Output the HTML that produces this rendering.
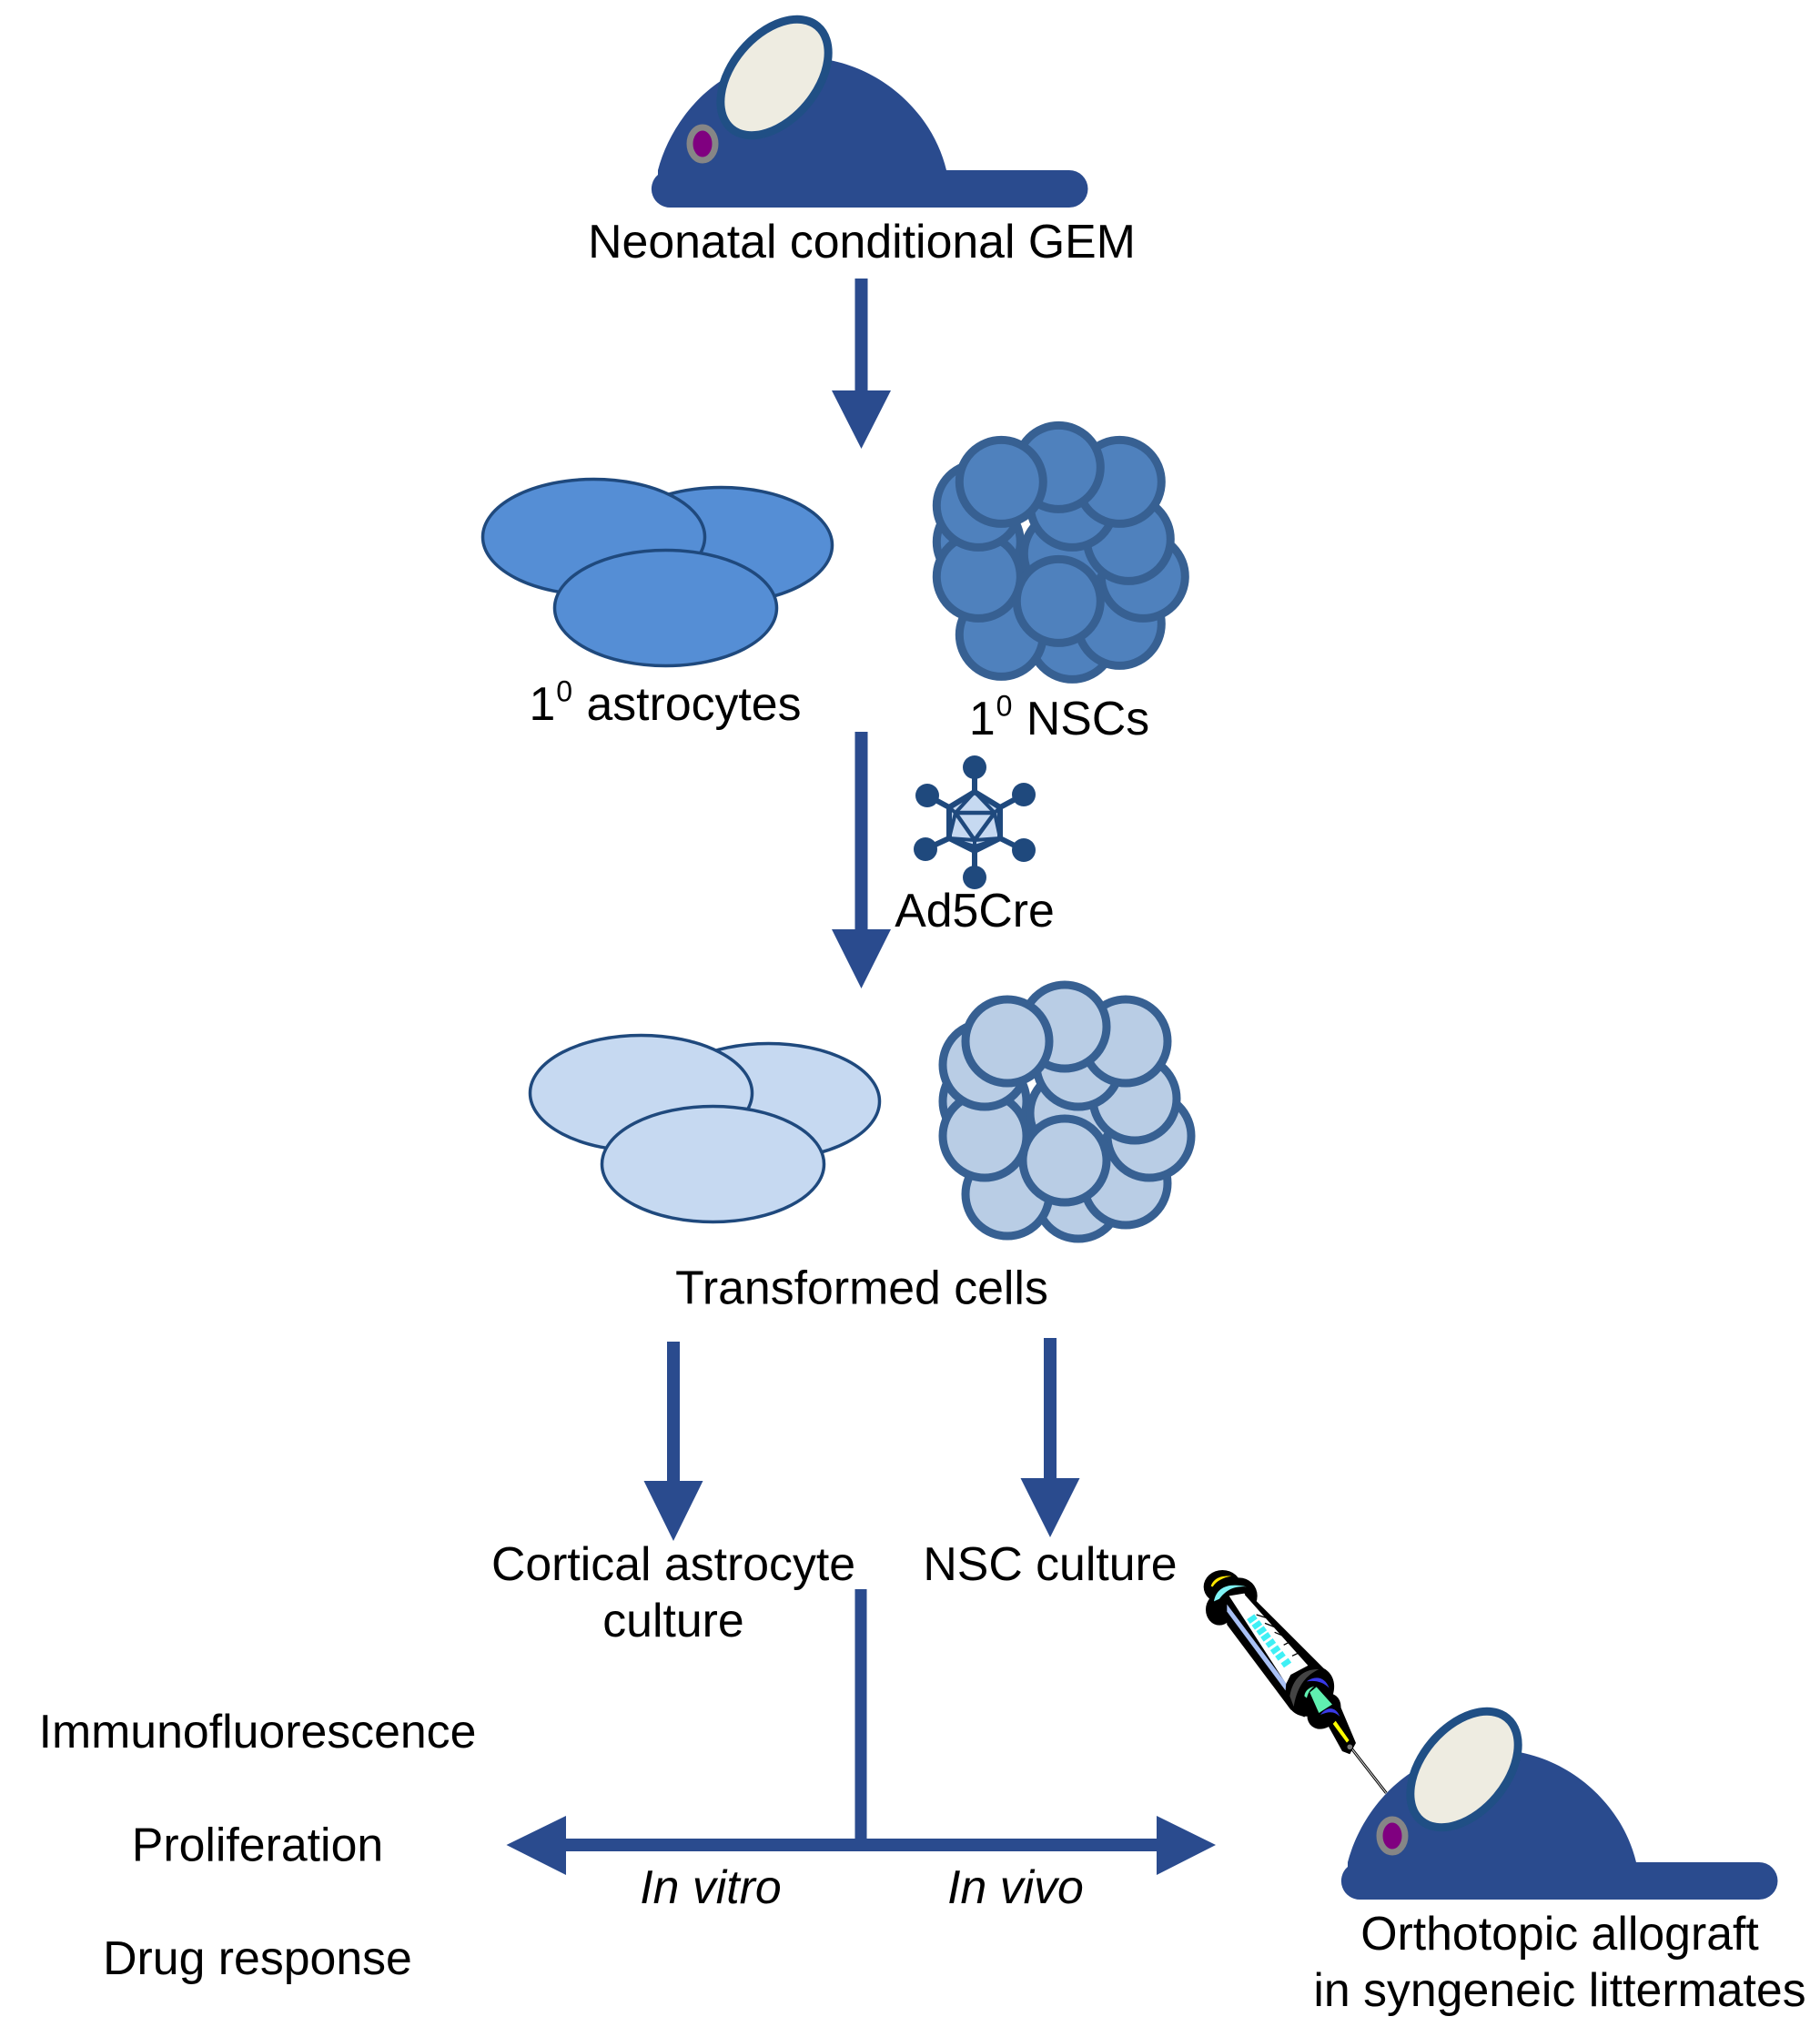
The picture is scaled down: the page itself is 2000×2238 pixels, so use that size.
<!DOCTYPE html>
<html><head><meta charset="utf-8"><style>
html,body{margin:0;padding:0;background:#fff}
svg{display:block}
text{font-family:"Liberation Sans",Arial,sans-serif;font-size:51.8px;fill:#000;text-anchor:middle}
</style></head><body>
<svg width="2000" height="2238" viewBox="0 0 2000 2238" xmlns="http://www.w3.org/2000/svg">
<defs>
<g id="mouse">
<path d="M723 187C738 130 790 63 880 63C960 63 1024 120 1040 187L1175 187A20.5 20.5 0 0 1 1175 228L737 228A20.5 20.5 0 0 1 723 192Z" fill="#2a4b8e"/>
<ellipse cx="851" cy="85" rx="73.5" ry="46.5" transform="rotate(-50 851 85)" fill="#eeece1" stroke="#204f85" stroke-width="9"/>
<ellipse cx="772" cy="158" rx="14" ry="18" fill="#800080" stroke="#868686" stroke-width="7"/>
</g>
<g id="nsc" stroke="#376092" stroke-width="9">
<circle cx="1185" cy="1315" r="46"/>
<circle cx="1107" cy="1312" r="46"/>
<circle cx="1237" cy="1300" r="46"/>
<circle cx="1263" cy="1248" r="46"/>
<circle cx="1082" cy="1210" r="46"/>
<circle cx="1082" cy="1248" r="46"/>
<circle cx="1178" cy="1223" r="46"/>
<circle cx="1247" cy="1207" r="46"/>
<circle cx="1185" cy="1170" r="46"/>
<circle cx="1237" cy="1144" r="46"/>
<circle cx="1170" cy="1128" r="46"/>
<circle cx="1082" cy="1170" r="46"/>
<circle cx="1107" cy="1144" r="46"/>
<circle cx="1170" cy="1275" r="46"/>
</g>
</defs>

<use href="#mouse"/>
<use href="#mouse" transform="translate(758 1859)"/>

<!-- arrows -->
<g fill="#2a4b8e">
<rect x="939.5" y="306" width="14" height="125"/>
<polygon points="914,429 979,429 946.5,493"/>
<rect x="939.5" y="804" width="14" height="220"/>
<polygon points="914,1021 979,1021 946.5,1086"/>
<rect x="733" y="1474" width="14" height="156"/>
<polygon points="707.5,1627 772.5,1627 740,1693"/>
<rect x="1147" y="1470" width="14" height="157"/>
<polygon points="1121.5,1624 1186.5,1624 1154,1689"/>
<rect x="939.5" y="1746" width="13" height="285"/>
<rect x="620" y="2020" width="652" height="14"/>
<polygon points="556.5,2027 622,1995 622,2060"/>
<polygon points="1336,2027 1271,1995 1271,2060"/>
</g>

<g fill="#558ed5" stroke="#1f497d" stroke-width="3.5">
<ellipse cx="792.5" cy="599" rx="122" ry="63.5"/>
<ellipse cx="652.5" cy="590" rx="122" ry="63.5"/>
<ellipse cx="731.5" cy="668" rx="122" ry="63.5"/>
</g>
<g fill="#c6d9f1" stroke="#1f497d" stroke-width="3.5" transform="translate(52 611)">
<ellipse cx="792.5" cy="599" rx="122" ry="63.5"/>
<ellipse cx="652.5" cy="590" rx="122" ry="63.5"/>
<ellipse cx="731.5" cy="668" rx="122" ry="63.5"/>
</g>
<use href="#nsc" transform="translate(-6.7 -614.6)" fill="#4f81bd"/>
<use href="#nsc" fill="#b9cde5"/>

<!-- virus -->
<g stroke="#1f497d" stroke-width="6" fill="none" stroke-linejoin="round">
<line x1="1071" y1="843" x2="1071" y2="870"/><line x1="1019" y1="874" x2="1043" y2="887"/><line x1="1125" y1="873" x2="1099" y2="887"/><line x1="1017" y1="933" x2="1043" y2="921"/><line x1="1125" y1="934" x2="1099" y2="921"/><line x1="1071" y1="964" x2="1071" y2="935"/>
<polygon points="1071,870 1099,887 1099,921 1071,935 1043,921 1043,887" fill="#c6d9f1"/>
<polygon points="1050,893 1093,893 1071,923" stroke-width="4.5"/>
<path d="M1071 870L1050 893L1043 887M1071 870L1093 893L1099 887M1050 893L1043 921L1071 923L1099 921L1093 893M1071 923L1071 935M1043 921L1071 930L1099 921" stroke-width="4"/>
<g fill="#1f497d" stroke="none">
<circle cx="1071" cy="843" r="13"/><circle cx="1019" cy="874" r="13"/><circle cx="1125" cy="873" r="13"/><circle cx="1017" cy="933" r="13"/><circle cx="1125" cy="934" r="13"/><circle cx="1071" cy="964" r="13"/>
</g>
</g>

<!-- syringe -->
<g transform="translate(1290 1700) scale(.3333)">
<line x1="585" y1="662" x2="700" y2="810" stroke="#000" stroke-width="9"/>
<line x1="585" y1="662" x2="700" y2="810" stroke="#ddd" stroke-width="3"/>
<polygon points="490,555 545,515 600,645 580,682 555,672" fill="#000"/>
<circle cx="580" cy="658" r="10" fill="#777" stroke="#000" stroke-width="3"/>
<polygon points="508,560 520,553 578,636 570,644" fill="#ff0"/>
<ellipse cx="160" cy="130" rx="62" ry="55" fill="#000"/>
<ellipse cx="150" cy="205" rx="45" ry="52" fill="#000"/>
<ellipse cx="215" cy="160" rx="60" ry="60" fill="#000"/>
<polygon points="170,170 270,175 515,420 430,560 385,535 175,255" fill="#000"/>
<ellipse cx="450" cy="475" rx="72" ry="88" transform="rotate(38 450 475)" fill="#000"/>
<path d="M382 490C392 430 430 400 478 402C440 420 408 450 395 525Z" fill="#444"/>
<ellipse cx="495" cy="540" rx="50" ry="64" transform="rotate(38 495 540)" fill="#000"/>
<polygon points="182,160 232,152 445,388 385,420 370,450" fill="#fff"/>
<polygon points="175,188 370,448 368,472 175,212" fill="#a8c0f5"/>
<g stroke="#000" stroke-width="4" fill="none">
<line x1="235" y1="155" x2="445" y2="390"/>
<line x1="272" y1="222" x2="304" y2="232"/><line x1="300" y1="250" x2="330" y2="262"/><line x1="332" y1="280" x2="360" y2="292"/><line x1="362" y1="322" x2="394" y2="306"/><line x1="390" y1="358" x2="424" y2="342"/>
</g>
<g fill="#3ff0f5">
<rect x="-15" y="-9" width="30" height="18" transform="translate(258 236) rotate(-35)"/>
<rect x="-15" y="-9" width="30" height="18" transform="translate(274 256) rotate(-35)"/>
<rect x="-15" y="-9" width="30" height="18" transform="translate(289 275) rotate(-35)"/>
<rect x="-15" y="-9" width="30" height="18" transform="translate(303 295) rotate(-35)"/>
<rect x="-15" y="-9" width="30" height="18" transform="translate(319 316) rotate(-35)"/>
<rect x="-15" y="-9" width="30" height="18" transform="translate(335 338) rotate(-35)"/>
<rect x="-15" y="-9" width="30" height="18" transform="translate(351 358) rotate(-35)"/>
<rect x="-15" y="-9" width="30" height="18" transform="translate(370 381) rotate(-35)"/>
</g>
<path d="M132 178C140 135 175 115 240 130C190 125 165 150 150 170Z" fill="#7ff3f5"/>
<path d="M122 128C130 105 150 92 190 95C160 100 140 112 128 130Z" fill="#ffe600"/>
<polygon points="448,478 470,460 522,518 478,546" fill="#5ff0b0"/>
<path d="M430 490C433 470 448 462 463 458C446 472 443 480 438 497Z" fill="#5ff0b0"/>
<path d="M438 442C465 422 498 426 512 464C490 442 465 438 438 442Z" fill="#3a3ae8"/>
<path d="M483 552C505 522 535 525 547 558C530 540 510 540 483 552Z" fill="#3a3ae8"/>
</g>

<!-- labels -->
<text x="947" y="283">Neonatal conditional GEM</text>
<text x="731" y="791"><tspan>1</tspan><tspan dy="-20.5" dx="1" font-size="32">0</tspan><tspan dy="20.5" dx="1"> astrocytes</tspan></text>
<text x="1164" y="807"><tspan>1</tspan><tspan dy="-20.5" dx="1" font-size="32">0</tspan><tspan dy="20.5" dx="1"> NSCs</tspan></text>
<text x="1071" y="1018">Ad5Cre</text>
<text x="947" y="1432.5">Transformed cells</text>
<text x="740" y="1736">Cortical astrocyte</text>
<text x="740" y="1798">culture</text>
<text x="1154" y="1736">NSC culture</text>
<text x="283" y="1920">Immunofluorescence</text>
<text x="283" y="2044.5">Proliferation</text>
<text x="283" y="2169">Drug response</text>
<text x="781" y="2091" font-style="italic">In vitro</text>
<text x="1116" y="2091" font-style="italic">In vivo</text>
<text x="1714" y="2142">Orthotopic allograft</text>
<text x="1714" y="2204">in syngeneic littermates</text>
</svg>
</body></html>
